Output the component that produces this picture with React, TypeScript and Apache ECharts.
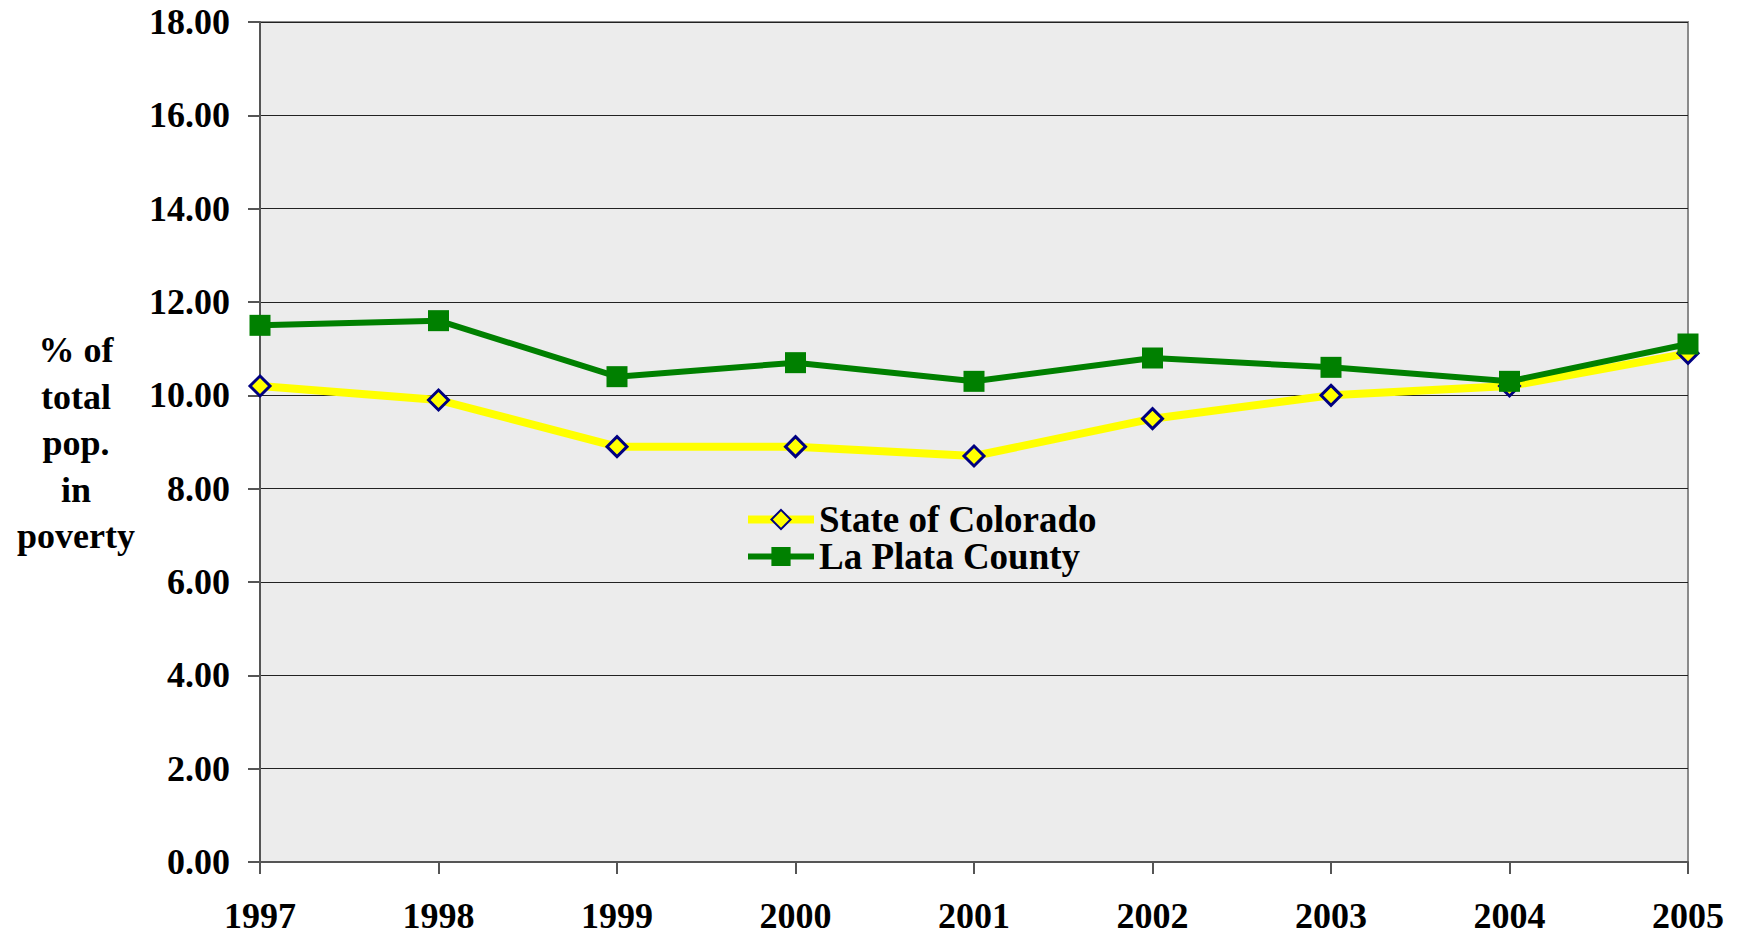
import React, { useEffect, useRef } from "react";
import * as echarts from "echarts";

const years = ["1997", "1998", "1999", "2000", "2001", "2002", "2003", "2004", "2005"];
const colorado = [10.2, 9.9, 8.9, 8.9, 8.7, 9.5, 10.0, 10.2, 10.9];
const laPlata = [11.5, 11.6, 10.4, 10.7, 10.3, 10.8, 10.6, 10.3, 11.1];
const yAxisTitle = "% of\ntotal\npop.\nin\npoverty";

const FONT = "'Liberation Serif', 'Times New Roman', serif";

export default function App() {
  const ref = useRef<HTMLDivElement>(null);
  useEffect(() => {
    if (!ref.current) return;
    const chart = echarts.init(ref.current, null, { renderer: "svg" });
    chart.setOption({
      animation: false,
      backgroundColor: "#ffffff",
      textStyle: { fontFamily: FONT },
      grid: {
        left: 260,
        top: 22,
        width: 1428,
        height: 840,
        show: true,
        backgroundColor: "#ececec",
        borderColor: "#8a8a8a",
        borderWidth: 2,
      },
      legend: {
        orient: "vertical",
        left: 744,
        top: 501,
        itemGap: 0,
        itemWidth: 66,
        itemHeight: 24,
        symbolSize: 22,
        padding: 0,
        textStyle: { fontFamily: FONT, fontWeight: "bold", fontSize: 37, color: "#000" },
        data: [
          { name: "State of Colorado", lineStyle: { width: 8, color: "#ffff00" } },
          { name: "La Plata County", lineStyle: { width: 6, color: "#008000" } },
        ],
      },
      graphic: [
        {
          type: "text",
          x: 76,
          y: 327,
          style: {
            text: yAxisTitle,
            fontFamily: FONT,
            fontWeight: "bold",
            fontSize: 36,
            lineHeight: 46.5,
            fill: "#000",
            align: "center",
            verticalAlign: "top",
          },
        },
      ],
      xAxis: {
        type: "category",
        data: years,
        boundaryGap: false,
        axisLine: { show: true, lineStyle: { color: "#555", width: 2 } },
        axisTick: { show: true, length: 12, inside: false, lineStyle: { color: "#555", width: 2 } },
        axisLabel: {
          margin: 36,
          fontFamily: FONT,
          fontWeight: "bold",
          fontSize: 36,
          color: "#000",
        },
        splitLine: { show: false },
      },
      yAxis: {
        type: "value",
        min: 0,
        max: 18,
        interval: 2,
        axisLine: { show: true, lineStyle: { color: "#555", width: 2 } },
        axisTick: { show: true, length: 12, inside: false, lineStyle: { color: "#555", width: 2 } },
        axisLabel: {
          margin: 30,
          fontFamily: FONT,
          fontWeight: "bold",
          fontSize: 36,
          color: "#000",
          formatter: (v: number) => v.toFixed(2),
        },
        splitLine: { show: true, lineStyle: { color: "#222", width: 1.2 } },
      },
      series: [
        {
          name: "State of Colorado",
          type: "line",
          data: colorado,
          symbol: "diamond",
          symbolSize: 20,
          lineStyle: { color: "#ffff00", width: 8 },
          itemStyle: { color: "#ffff00", borderColor: "#000080", borderWidth: 3 },
          z: 2,
        },
        {
          name: "La Plata County",
          type: "line",
          data: laPlata,
          symbol: "rect",
          symbolSize: 21,
          lineStyle: { color: "#008000", width: 6 },
          itemStyle: { color: "#008000", borderWidth: 0 },
          z: 3,
        },
      ],
    });
    return () => chart.dispose();
  }, []);
  return (
    <div
      ref={ref}
      style={{ position: "fixed", left: 0, top: 0, width: 1740, height: 938 }}
    />
  );
}
